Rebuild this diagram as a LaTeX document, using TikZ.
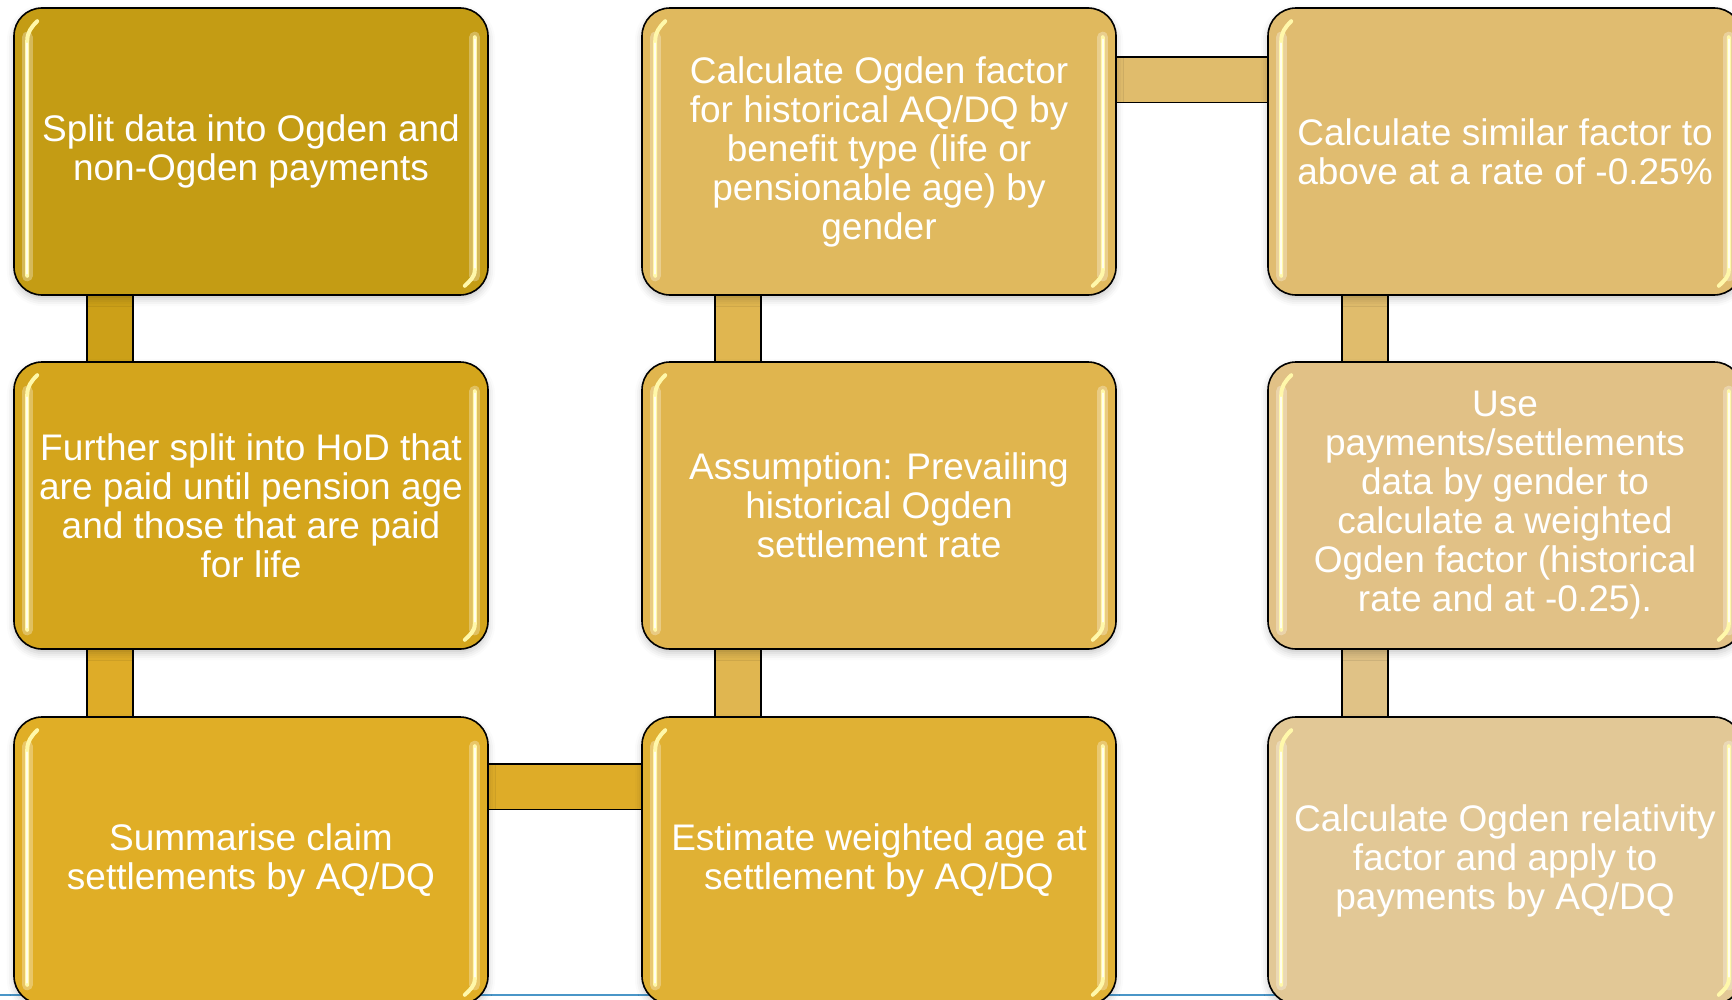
\documentclass[tikz,border=0pt]{standalone}
\usepackage{fontspec}
\setmainfont{Liberation Sans}
\usetikzlibrary{shadows.blur}

% box fills, darkest gold to palest sand
\definecolor{boxA}{RGB}{196,156,20}
\definecolor{boxB}{RGB}{212,165,28}
\definecolor{boxC}{RGB}{224,174,38}
\definecolor{boxD}{RGB}{224,177,52}
\definecolor{boxE}{RGB}{224,181,78}
\definecolor{boxF}{RGB}{224,185,94}
\definecolor{boxG}{RGB}{224,188,112}
\definecolor{boxH}{RGB}{225,193,134}
\definecolor{boxI}{RGB}{226,200,150}
% bar fills
\definecolor{linkA}{RGB}{204,160,24}
\definecolor{linkB}{RGB}{222,172,40}
\definecolor{linkC}{RGB}{224,182,80}
\definecolor{linkD}{RGB}{224,188,108}
\definecolor{linkE}{RGB}{224,194,134}
\definecolor{ruleblue}{RGB}{74,150,200}
\definecolor{sheen}{RGB}{255,248,170}

\pgfdeclarelayer{background}
\pgfsetlayers{background,main}

\begin{document}
\begin{tikzpicture}[x=1bp,y=-1bp,
  stepbox/.style={draw=black, line width=1.6bp, rounded corners=28bp,
    minimum width=474bp, minimum height=287bp, inner sep=0pt,
    text=white, align=center, font=\fontsize{37bp}{39bp}\selectfont,
    blur shadow={shadow xshift=0pt, shadow yshift=-4bp,
      shadow blur radius=7bp, shadow opacity=22}},
  link/.style={draw=black, line width=1.6bp, double distance=44bp, line cap=butt},
  glow/.style={line width=11bp, white, opacity=0.3, line cap=round},
  gloss/.style={line width=4bp, sheen, line cap=round},
  glosscore/.style={line width=1.5bp, white, opacity=0.8, line cap=round}
]
\useasboundingbox (0,0) rectangle (1732,999);

% thin blue rule along the foot
\draw[ruleblue, line width=2.5bp] (0,995) coordinate (ruleL) -- (1732,995) coordinate (ruleR);

% column 1
\node[stepbox, fill=boxA] (s1) at (251,151.5) {Split data into Ogden and\\non-Ogden payments};
\node[stepbox, fill=boxB] (s2) at (251,505.5) {Further split into HoD that\\are paid until pension age\\and those that are paid\\for life};
\node[stepbox, fill=boxC] (s3) at (251,860.5) {Summarise claim\\settlements by AQ/DQ};
% column 2
\node[stepbox, fill=boxD] (s4) at (879,860.5) {Estimate weighted age at\\settlement by AQ/DQ};
\node[stepbox, fill=boxE] (s5) at (879,505.5) {Assumption: Prevailing\\historical Ogden\\settlement rate};
\node[stepbox, fill=boxF] (s6) at (879,151.5) {Calculate Ogden factor\\for historical AQ/DQ by\\benefit type (life or\\pensionable age) by\\gender};
% column 3
\node[stepbox, fill=boxG] (s7) at (1505,151.5) {Calculate similar factor to\\above at a rate of -0.25\%};
\node[stepbox, fill=boxH] (s8) at (1505,505.5) {Use\\payments/settlements\\data by gender to\\calculate a weighted\\Ogden factor (historical\\rate and at -0.25).};
\node[stepbox, fill=boxI] (s9) at (1505,860.5) {Calculate Ogden relativity\\factor and apply to\\payments by AQ/DQ};

% glossy edge highlights
\foreach \n in {s1,s2,s3,s4,s5,s6,s7,s8,s9}{
  \draw[glow] ([xshift=14bp,yshift=-30bp]\n.north west) -- ([xshift=14bp,yshift=20bp]\n.south west);
  \draw[gloss] ([xshift=24bp,yshift=-14bp]\n.north west) to[out=225,in=90] ([xshift=14bp,yshift=-34bp]\n.north west) -- ([xshift=14bp,yshift=20bp]\n.south west);
  \draw[glosscore] ([xshift=14bp,yshift=-36bp]\n.north west) -- ([xshift=14bp,yshift=22bp]\n.south west);
  \draw[glow] ([xshift=-14bp,yshift=-30bp]\n.north east) -- ([xshift=-14bp,yshift=20bp]\n.south east);
  \draw[gloss] ([xshift=-14bp,yshift=-30bp]\n.north east) -- ([xshift=-14bp,yshift=26bp]\n.south east) to[out=-90,in=45] ([xshift=-24bp,yshift=10bp]\n.south east);
  \draw[glosscore] ([xshift=-14bp,yshift=-32bp]\n.north east) -- ([xshift=-14bp,yshift=28bp]\n.south east);
}

% connecting bars, behind the boxes
\begin{pgfonlayer}{background}
\draw[link, double=linkA] ([xshift=-141bp]s1.south) -- ([xshift=-141bp]s2.north);
\draw[link, double=linkB] ([xshift=-141bp]s2.south) -- ([xshift=-141bp]s3.north);
\draw[link, double=linkB] ([yshift=74bp]s3.east) -- ([yshift=74bp]s4.west);
\draw[link, double=linkC] ([xshift=-141bp]s4.north) -- ([xshift=-141bp]s5.south);
\draw[link, double=linkC] ([xshift=-141bp]s5.north) -- ([xshift=-141bp]s6.south);
\draw[link, double=linkD] ([yshift=72bp]s6.east) -- ([yshift=72bp]s7.west);
\draw[link, double=linkD] ([xshift=-140bp]s7.south) -- ([xshift=-140bp]s8.north);
\draw[link, double=linkE] ([xshift=-140bp]s8.south) -- ([xshift=-140bp]s9.north);
\end{pgfonlayer}
\end{tikzpicture}
\end{document}
